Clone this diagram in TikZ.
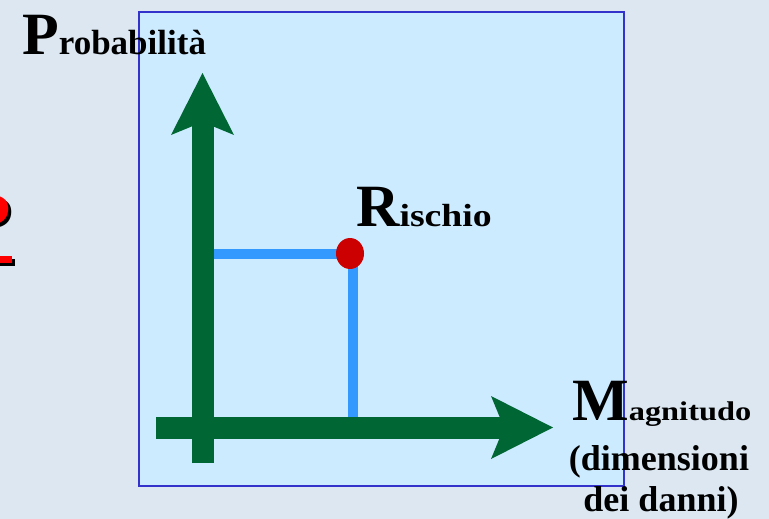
\documentclass[tikz,border=0pt]{standalone}
\usepackage{fontspec}
\setmainfont{Liberation Serif}
\usetikzlibrary{arrows.meta,positioning}
\definecolor{axisgreen}{HTML}{006633}
\definecolor{guideblue}{HTML}{3399FF}
\definecolor{panelblue}{HTML}{CCEBFF}
\definecolor{frameblue}{HTML}{3333CC}
\definecolor{pagebg}{HTML}{DCE7F1}
\definecolor{pointred}{HTML}{CC0000}
\definecolor{askred}{HTML}{FF0000}

\begin{document}
\begin{tikzpicture}[x=1pt,y=-1pt,
  axis/.style={draw=axisgreen,line width=22pt,
    -{Stealth[length=62pt,width=63pt,inset=13pt,line width=0pt]}},
  guide/.style={draw=guideblue,line width=10pt},
  axislabel/.style={anchor=base west,inner sep=0pt,font=\bfseries},
  notetext/.style={anchor=base,inner sep=0pt,
    font=\fontsize{36}{36}\selectfont\bfseries}
]
\fill[pagebg] (0,0) rectangle (769,519);
\useasboundingbox (0,0) rectangle (769,519);
% question mark cut by the left edge
\node[anchor=base west,inner sep=0pt,text=black,font=\fontsize{80}{80}\selectfont\bfseries]
  (askshadow) at (-24,251) {?};
\node[anchor=base west,inner sep=0pt,text=askred,font=\fontsize{80}{80}\selectfont\bfseries]
  (ask) at (-27,248) {?};
\fill[black] (-40,259) rectangle (15,266);
\fill[askred] (-40,256) rectangle (12,263);
% panel
\draw[frameblue,fill=panelblue,line width=2pt] (139,12) rectangle (624,486);
\coordinate (risk) at (350,253.5);
\coordinate (pleft) at (212,253.5);
\coordinate (mtop) at (353,253.5);
\coordinate (mbot) at (353,418);
\draw[guide] (pleft) -- (risk);
\draw[guide] (mtop) -- (mbot);
\fill[pointred] (risk) ellipse [x radius=14,y radius=15.5];
\coordinate (ybot) at (202.5,463);
\coordinate (ytop) at (202.5,73);
\coordinate (xleft) at (156,427.5);
\coordinate (xright) at (553,427.5);
\draw[axis] (ybot) -- (ytop);
\draw[axis] (xleft) -- (xright);
% labels
\node[axislabel] (prob) at (22,55)
  {\fontsize{60}{60}\selectfont P\fontsize{35}{35}\selectfont robabilità};
\node[axislabel] (rischio) at (356,226)
  {\fontsize{60}{60}\selectfont R\scalebox{1.18}[1]{\fontsize{32}{32}\selectfont ischio}};
\node[axislabel] (magn) at (572,420)
  {\fontsize{60}{60}\selectfont M\scalebox{1.2}[1]{\fontsize{27}{27}\selectfont agnitudo}};
\node[notetext] (dim) at (659,470) {(dimensioni};
\node[notetext] (danni) at (661,511) {dei danni)};
\end{tikzpicture}
\end{document}
